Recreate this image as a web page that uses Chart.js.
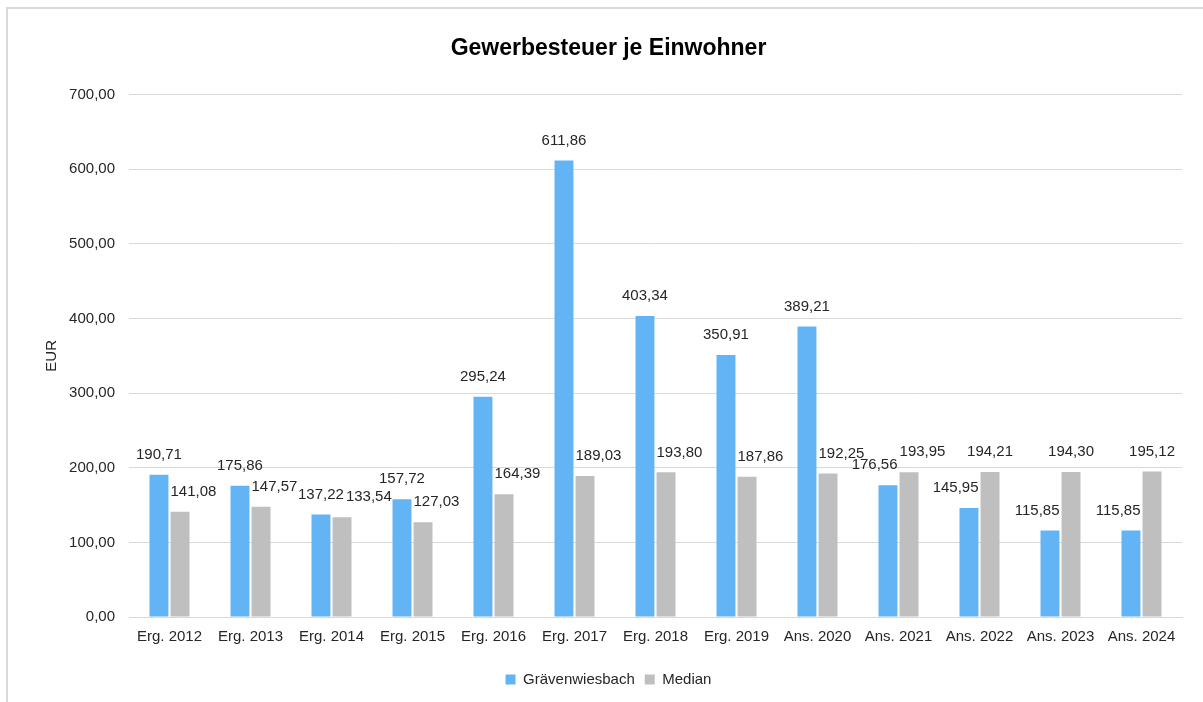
<!DOCTYPE html>
<html>
<head>
<meta charset="utf-8">
<script src="https://cdn.jsdelivr.net/npm/chart.js@4/dist/chart.umd.min.js"></script>
<style>
  html, body { margin: 0; padding: 0; background: #fff; overflow: hidden; }
  #frame {
    position: absolute; left: 6px; top: 7px; width: 1210px; height: 700px;
    border-left: 2px solid #d9d9d9; border-top: 2px solid #d9d9d9;
  }
  #wrap { position: absolute; left: 2px; top: 1px; width: 1203px; height: 694px; }
</style>
</head>
<body>
<div id="frame"><div id="wrap"><canvas id="gewerbeChart"></canvas></div></div>
<script>
let categories = ["Erg. 2012", "Erg. 2013", "Erg. 2014", "Erg. 2015", "Erg. 2016", "Erg. 2017", "Erg. 2018",
  "Erg. 2019", "Ans. 2020", "Ans. 2021", "Ans. 2022", "Ans. 2023", "Ans. 2024"];
let graevenwiesbach = [190.71, 175.86, 137.22, 157.72, 295.24, 611.86, 403.34, 350.91, 389.21, 176.56, 145.95, 115.85, 115.85];
let median = [141.08, 147.57, 133.54, 127.03, 164.39, 189.03, 193.80, 187.86, 192.25, 193.95, 194.21, 194.30, 195.12];
let yTicks = [0, 100, 200, 300, 400, 500, 600, 700];

const FONT = '"Liberation Sans", Arial, sans-serif';
const fmt = (v) => v.toLocaleString("de-DE", { minimumFractionDigits: 2, maximumFractionDigits: 2 });

// data labels above bars, nudged sideways like Excel does when they collide
const barLabels = {
  id: "barLabels",
  afterDatasetsDraw(chart) {
    const ctx = chart.ctx;
    ctx.save();
    ctx.font = "15px " + FONT;
    ctx.fillStyle = "#262626";
    ctx.textAlign = "center";
    ctx.textBaseline = "middle";
    const m0 = chart.getDatasetMeta(0);
    const m1 = chart.getDatasetMeta(1);
    m0.data.forEach((b, i) => {
      const g = m1.data[i];
      const t0 = fmt(graevenwiesbach[i]);
      const t1 = fmt(median[i]);
      const w0 = ctx.measureText(t0).width;
      const w1 = ctx.measureText(t1).width;
      let x0 = b.x, y0 = b.y - 20;
      let x1 = g.x, y1 = g.y - 20;
      if (b.y < y1 + 8) x1 = Math.max(x1, b.x + b.width / 2 + 2 + w1 / 2);
      if (g.y < y0 + 8) x0 = Math.min(x0, g.x - g.width / 2 - 2 - w0 / 2);
      if (Math.abs(y0 - y1) < 16 && x1 - w1 / 2 < x0 + w0 / 2 + 2) x1 = x0 + w0 / 2 + 2 + w1 / 2;
      ctx.fillText(t0, x0, y0);
      ctx.fillText(t1, x1, y1);
    });
    ctx.restore();
  },
};

new Chart(document.querySelector("#gewerbeChart"), {
  type: "bar",
  data: {
    labels: categories,
    datasets: [
      {
        label: "Grävenwiesbach",
        data: graevenwiesbach,
        backgroundColor: "#63B4F5",
        barPercentage: 0.9,
        categoryPercentage: 0.52,
      },
      {
        label: "Median",
        data: median,
        backgroundColor: "#BFBFBF",
        barPercentage: 0.9,
        categoryPercentage: 0.52,
      },
    ],
  },
  options: {
    responsive: true,
    maintainAspectRatio: false,
    animation: false,
    layout: { padding: { left: 25, right: 31, top: 0, bottom: 7 } },
    scales: {
      x: {
        grid: { display: false },
        border: { display: true, color: "#d9d9d9", width: 1 },
        ticks: { color: "#262626", padding: 3, maxRotation: 0, font: { size: 15, family: FONT } },
        afterFit: (scale) => { scale.height = 45; },
      },
      y: {
        min: 0,
        max: 700,
        afterBuildTicks: (scale) => { scale.ticks = yTicks.map((v) => ({ value: v })); },
        grid: { color: "#d9d9d9", lineWidth: 1, drawTicks: false },
        border: { display: false },
        ticks: {
          color: "#262626",
          padding: 14,
          font: { size: 15, family: FONT },
          callback: (v) => fmt(v),
        },
        title: {
          display: true,
          text: "EUR",
          color: "#262626",
          font: { size: 15, family: FONT },
          padding: { top: 8, bottom: 0 },
        },
        afterFit: (scale) => { scale.width = 94; },
      },
    },
    plugins: {
      title: {
        display: true,
        text: "Gewerbesteuer je Einwohner",
        color: "#000000",
        font: { size: 23, weight: "bold", family: FONT },
        padding: { top: 25, bottom: 32 },
      },
      legend: {
        position: "bottom",
        labels: {
          color: "#262626",
          boxWidth: 10,
          boxHeight: 10,
          padding: 10,
          font: { size: 15, family: FONT },
        },
      },
      tooltip: { enabled: false },
    },
  },
  plugins: [barLabels],
});
</script>
</body>
</html>
